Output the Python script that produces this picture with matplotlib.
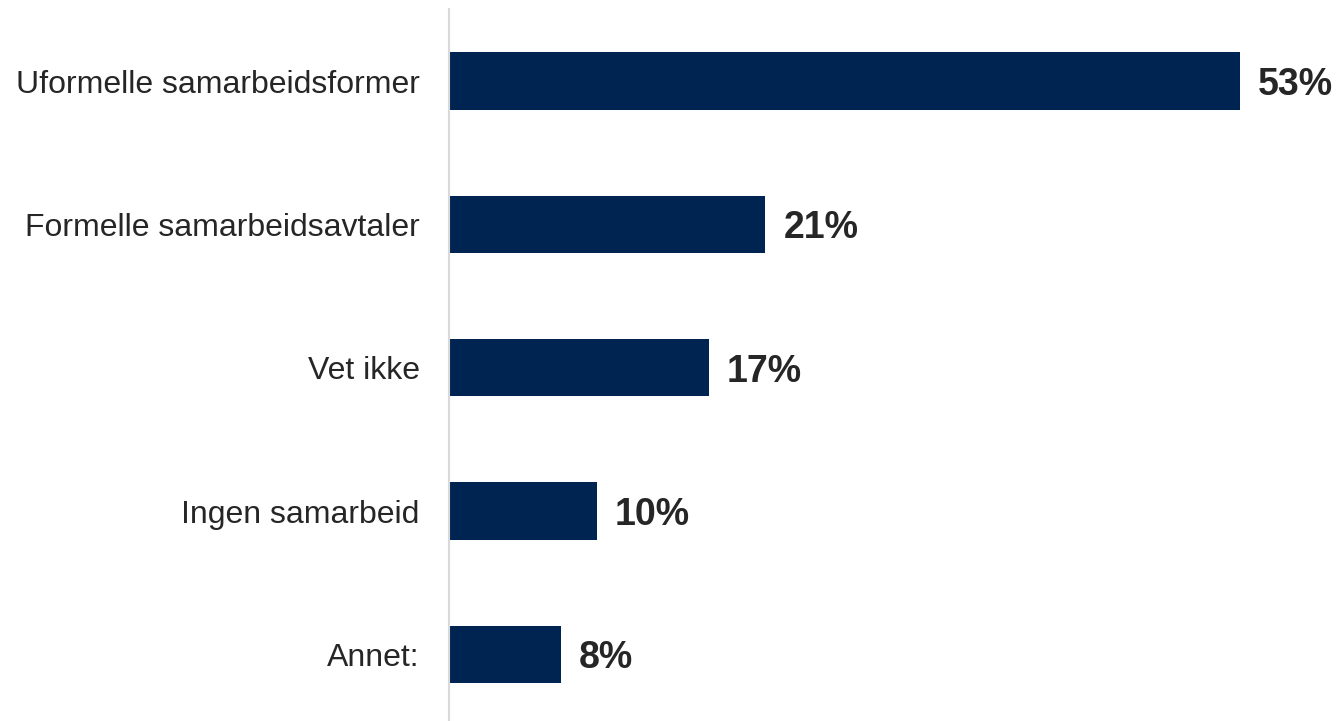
import matplotlib.pyplot as plt

categories = ["Uformelle samarbeidsformer", "Formelle samarbeidsavtaler", "Vet ikke",
              "Ingen samarbeid", "Annet:"]
values = [53.0, 21.2, 17.4, 9.9, 7.5]
value_labels = ["53%", "21%", "17%", "10%", "8%"]

plt.rcParams['font.family'] = ['Liberation Sans', 'DejaVu Sans']

fig = plt.figure(figsize=(13.36, 7.21), dpi=100)
ax = fig.add_axes([449 / 1336, 0, 887 / 1336, 711.5 / 721])

ax.barh(range(len(categories)), values, height=0.4, color="#002452")
ax.set_xlim(0, 887 / 14.92)
ax.set_ylim(4.465, -0.5)

for i, (v, lab) in enumerate(zip(values, value_labels)):
    ax.annotate(lab, (v, i), xytext=(13, 0), textcoords="offset points",
                va="center_baseline", ha="left", fontsize=27, fontweight="bold",
                color="#262626")

ax.set_yticks(range(len(categories)))
ax.set_yticklabels(categories, fontsize=23, color="#262626")
ax.tick_params(axis="y", length=0, pad=21)
ax.set_xticks([])
for side in ["top", "right", "bottom"]:
    ax.spines[side].set_visible(False)
ax.spines["left"].set_color("#D9D9D9")
ax.spines["left"].set_linewidth(1.5)

fig.savefig("out.png", dpi=100)
